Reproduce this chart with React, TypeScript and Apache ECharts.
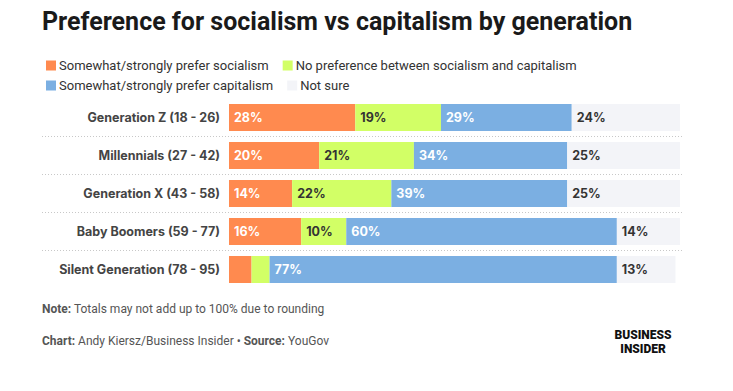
import React, { useEffect, useRef } from "react";
import * as echarts from "echarts";

const categories = [
  "Generation Z (18 - 26)",
  "Millennials (27 - 42)",
  "Generation X (43 - 58)",
  "Baby Boomers (59 - 77)",
  "Silent Generation (78 - 95)",
];
const seriesNames = [
  "Somewhat/strongly prefer socialism",
  "No preference between socialism and capitalism",
  "Somewhat/strongly prefer capitalism",
  "Not sure",
];
const socialism = [28, 20, 14, 16, 5];
const noPreference = [19, 21, 22, 10, 4];
const capitalism = [29, 34, 39, 60, 77];
const notSure = [24, 25, 25, 14, 13];

const colors = ["#FF8A4F", "#D2FF66", "#7BAFE2", "#F3F4F8"];
const labelColors = ["#ffffff", "#333333", "#ffffff", "#333333"];

const GRID_LEFT = 229;
const GRID_TOP = 98.5;
const GRID_W = 451;
const GRID_H = 190;

export default function App() {
  const ref = useRef<HTMLDivElement>(null);
  useEffect(() => {
    document.body.style.margin = "0";
    const chart = echarts.init(ref.current!, null, { renderer: "svg" });
    const values = [socialism, noPreference, capitalism, notSure];
    const band = GRID_H / categories.length;
    const separators = [] as any[];
    for (let i = 1; i < categories.length; i++) {
      const y = GRID_TOP + band * i;
      separators.push({
        type: "line",
        shape: { x1: 42, y1: y, x2: 682, y2: y },
        style: { stroke: "#c8c8c8", lineWidth: 1, lineDash: [1, 2] },
        silent: true,
      });
    }
    const font = "Roboto, sans-serif";
    const legendCommon = {
      left: 46,
      padding: 0,
      itemWidth: 10,
      itemHeight: 10,
      itemGap: 14,
      icon: "rect",
      textStyle: { fontFamily: font, fontSize: 13, color: "#333", padding: [0, 0, 0, -2] },
    };
    chart.setOption({
      animation: false,
      backgroundColor: "#ffffff",
      legend: [
        { ...legendCommon, top: 59, data: [seriesNames[0], seriesNames[1]] },
        { ...legendCommon, top: 79, data: [seriesNames[2], seriesNames[3]] },
      ],
      grid: { left: GRID_LEFT, top: GRID_TOP, width: GRID_W, height: GRID_H },
      xAxis: { type: "value", min: 0, max: 100, show: false },
      yAxis: {
        type: "category",
        data: categories,
        inverse: true,
        axisLine: { show: false },
        axisTick: { show: false },
        splitLine: { show: false },
        axisLabel: {
          margin: 9,
          fontFamily: "Inter, Roboto, sans-serif",
          fontWeight: "bold",
          fontSize: 12.5,
          color: "#444",
        },
      },
      series: seriesNames.map((name, i) => ({
        name,
        type: "bar",
        stack: "total",
        barWidth: 27,
        itemStyle: { color: colors[i] },
        data: values[i],
        label: {
          show: true,
          position: "insideLeft",
          distance: 5,
          fontFamily: "Inter",
          fontWeight: "bold",
          fontSize: 12.5,
          color: labelColors[i],
          formatter: (p: any) => (p.value >= 8 ? p.value + "%" : ""),
        },
      })),
      graphic: [
        {
          type: "text",
          left: 42,
          top: 9,
          style: {
            text: "Preference for socialism vs capitalism by generation",
            fontFamily: font,
            fontWeight: "bold",
            fontSize: 25,
            fill: "#1a1a1a",
          },
        },
        ...separators,
        {
          type: "text",
          left: 42,
          top: 303,
          style: {
            text: "{b|Note:} Totals may not add up to 100% due to rounding",
            fontFamily: font,
            fontSize: 12,
            fill: "#555",
            rich: {
              b: { fontFamily: font, fontWeight: "bold", fontSize: 12, fill: "#555" },
            },
          },
        },
        {
          type: "text",
          left: 42,
          top: 335,
          style: {
            text: "{b|Chart:} Andy Kiersz/Business Insider \u2022 {b|Source:} YouGov",
            fontFamily: font,
            fontSize: 12,
            fill: "#555",
            rich: {
              b: { fontFamily: font, fontWeight: "bold", fontSize: 12, fill: "#555" },
            },
          },
        },
        {
          type: "text",
          x: 643,
          y: 329,
          style: {
            text: "BUSINESS",
            fontFamily: font,
            fontWeight: 900,
            fontSize: 12,
            fill: "#111",
            align: "center",
            verticalAlign: "top",
          },
        },
        {
          type: "text",
          x: 643,
          y: 342.5,
          style: {
            text: "INSIDER",
            fontFamily: font,
            fontWeight: 900,
            fontSize: 12,
            fill: "#111",
            align: "center",
            verticalAlign: "top",
          },
        },
      ],
    });
    return () => chart.dispose();
  }, []);
  return <div ref={ref} style={{ width: 733, height: 391 }} />;
}
